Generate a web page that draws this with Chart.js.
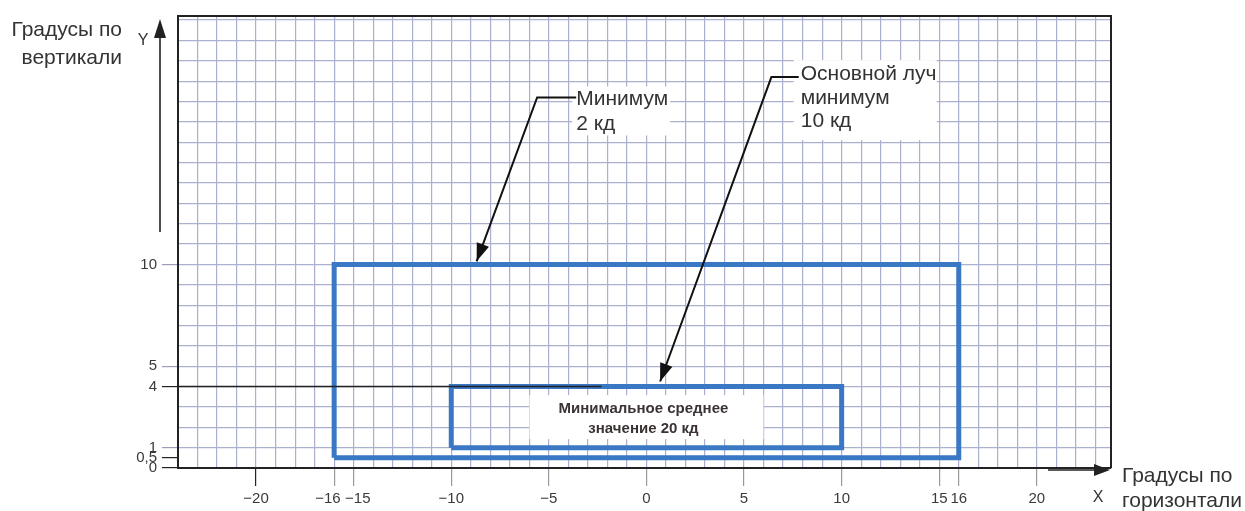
<!DOCTYPE html>
<html><head><meta charset="utf-8">
<script src="https://cdn.jsdelivr.net/npm/chart.js@4/dist/chart.umd.min.js"></script>
<style>html,body{margin:0;padding:0;background:#fff;}#wrap{position:relative;width:1245px;height:511px;}</style>
</head><body><div id="wrap"><canvas id="c" width="1245" height="511"></canvas></div>
<script>
// ---- data ----
const xLabelTicks = [-20, -16, -15, -10, -5, 0, 5, 10, 15, 16, 20];
const yLabelTicks = [0, 0.5, 1, 4, 5, 10];
const xRange = [-24, 23.8];
const yRange = [0, 22.2];
const outerBoxX = [-16, -16, 16, 16, -16];
const outerBoxY = [0.5, 10, 10, 0.5, 0.5];
const innerBoxX = [-10, -10, 10, 10, -10];
const innerBoxY = [1, 4, 4, 1, 1];
const refLineX = [-24, -2.3];
const refLineY = [4, 4];
const callout1X = [-8.7, -5.6, -3.6];
const callout1Y = [10.15, 18.2, 18.2];
const callout2X = [0.7, 6.4, 7.8];
const callout2Y = [4.25, 19.2, 19.2];
const label1 = ['Минимум', '2 кд'];
const label2 = ['Основной луч', 'минимум', '10 кд'];
const label3 = ['Минимальное среднее', 'значение 20 кд'];
const yTitle = ['Градусы по', 'вертикали'];
const xTitle = ['Градусы по', 'горизонтали'];

// ---- helpers ----
const pts = (xs, ys) => xs.map((x, i) => ({x: x, y: ys[i]}));
const fmt = v => (v < 0 ? '\u2212' + Math.abs(v) : String(v)).replace('.', ',');
// crowded neighbours (-16/-15) are nudged apart with padding spaces
const xFmt = v => v === -16 ? fmt(v) + '   ' : (v === -15 ? '  ' + fmt(v) : fmt(v));
const gridX = [];
for (let v = Math.ceil(xRange[0]); v <= Math.floor(xRange[1]); v++) gridX.push(v);
const gridY = [0.5];
for (let v = Math.ceil(yRange[0]); v <= Math.floor(yRange[1]); v++) gridY.push(v);
gridY.sort((a, b) => a - b);

const BLUE = '#3a77c4';
const GRID = '#acb0cf';
const FONT = '"Liberation Sans", Arial, sans-serif';

const deco = {
  id: 'deco',
  beforeDatasetsDraw(chart) {
    const ctx = chart.ctx;
    ctx.save();
    ctx.fillStyle = '#fff';
    const m1 = chart.getDatasetMeta(3).data[2];
    ctx.fillRect(m1.x - 4, m1.y - 11, 98, 49);
    const m2 = chart.getDatasetMeta(4).data[2];
    ctx.fillRect(m2.x - 5, m2.y - 17, 143, 80);
    const xs = chart.scales.x, ys = chart.scales.y;
    const cx = xs.getPixelForValue(0);
    const cy = ys.getPixelForValue(2.5);
    ctx.fillRect(cx - 117, cy - 22, 234, 44);
    ctx.restore();
  },
  afterDatasetsDraw(chart) {
    const ctx = chart.ctx, a = chart.chartArea;
    ctx.save();
    ctx.strokeStyle = '#222'; ctx.lineWidth = 2;
    ctx.beginPath();
    ctx.moveTo(a.left, a.top); ctx.lineTo(a.right, a.top); ctx.lineTo(a.right, a.bottom);
    ctx.stroke();
    ctx.fillStyle = '#111';
    [3, 4].forEach(i => {
      const d = chart.getDatasetMeta(i).data;
      const p0 = d[0], p1 = d[1];
      const ang = Math.atan2(p0.y - p1.y, p0.x - p1.x);
      const L = 18, W = 6.5;
      ctx.beginPath();
      ctx.moveTo(p0.x, p0.y);
      ctx.lineTo(p0.x - L * Math.cos(ang) + W * Math.sin(ang), p0.y - L * Math.sin(ang) - W * Math.cos(ang));
      ctx.lineTo(p0.x - L * Math.cos(ang) - W * Math.sin(ang), p0.y - L * Math.sin(ang) + W * Math.cos(ang));
      ctx.closePath(); ctx.fill();
    });
    ctx.fillStyle = '#333';
    ctx.font = '21px ' + FONT;
    ctx.textAlign = 'left'; ctx.textBaseline = 'alphabetic';
    const m1 = chart.getDatasetMeta(3).data[2];
    label1.forEach((t, k) => ctx.fillText(t, m1.x, m1.y + 8 + k * 25));
    const m2 = chart.getDatasetMeta(4).data[2];
    label2.forEach((t, k) => ctx.fillText(t, m2.x + 2, m2.y + 3 + k * 23.5));
    const xs = chart.scales.x, ys = chart.scales.y;
    const cx = xs.getPixelForValue(0) - 3;
    const cy = ys.getPixelForValue(2.5);
    ctx.fillStyle = '#3b3333';
    ctx.font = 'bold 15px ' + FONT;
    ctx.textAlign = 'center';
    label3.forEach((t, k) => ctx.fillText(t, cx, cy - 4 + k * 20));
    ctx.strokeStyle = '#222'; ctx.fillStyle = '#222'; ctx.lineWidth = 1.6;
    const ax = a.left - 18;
    ctx.beginPath(); ctx.moveTo(ax, a.top + 216); ctx.lineTo(ax, a.top + 14); ctx.stroke();
    ctx.beginPath(); ctx.moveTo(ax, a.top + 3); ctx.lineTo(ax - 6, a.top + 22); ctx.lineTo(ax + 6, a.top + 22); ctx.closePath(); ctx.fill();
    const ay = a.bottom + 2;
    ctx.beginPath(); ctx.moveTo(a.right - 63, ay); ctx.lineTo(a.right - 10, ay); ctx.stroke();
    ctx.beginPath(); ctx.moveTo(a.right - 1, ay); ctx.lineTo(a.right - 17, ay - 6); ctx.lineTo(a.right - 17, ay + 6); ctx.closePath(); ctx.fill();
    ctx.fillStyle = '#333';
    ctx.font = '16px ' + FONT;
    ctx.textAlign = 'center';
    ctx.fillText('Y', a.left - 35, a.top + 29);
    ctx.fillText('X', a.right - 13, a.bottom + 34);
    ctx.font = '21px ' + FONT;
    ctx.textAlign = 'right';
    yTitle.forEach((t, k) => ctx.fillText(t, a.left - 56, a.top + 20 + k * 28));
    ctx.textAlign = 'left';
    xTitle.forEach((t, k) => ctx.fillText(t, a.right + 11, a.bottom + 14 + k * 25));
    ctx.restore();
  }
};

new Chart(document.getElementById('c'), {
  type: 'scatter',
  data: {
    datasets: [
      {data: pts(outerBoxX, outerBoxY), showLine: true, borderColor: BLUE, borderWidth: 5, pointRadius: 0, fill: false, tension: 0, borderJoinStyle: 'miter', order: 2},
      {data: pts(innerBoxX, innerBoxY), showLine: true, borderColor: BLUE, borderWidth: 5, pointRadius: 0, fill: false, tension: 0, borderJoinStyle: 'miter', order: 2},
      {data: pts(refLineX, refLineY), showLine: true, borderColor: '#222', borderWidth: 1.5, pointRadius: 0, fill: false, order: 0},
      {data: pts(callout1X, callout1Y), showLine: true, borderColor: '#111', borderWidth: 2, pointRadius: 0, fill: false, clip: false, order: 0},
      {data: pts(callout2X, callout2Y), showLine: true, borderColor: '#111', borderWidth: 2, pointRadius: 0, fill: false, clip: false, order: 0}
    ]
  },
  options: {
    responsive: false, animation: false, devicePixelRatio: 1,
    layout: {padding: {left: 118, right: 134, top: 16, bottom: 0}},
    plugins: {legend: {display: false}, tooltip: {enabled: false}, title: {display: false}},
    scales: {
      x: {
        type: 'linear', min: xRange[0], max: xRange[1],
        afterBuildTicks: s => { s.ticks = gridX.map(v => ({value: v})); },
        afterFit: s => { s.height = 43; },
        grid: {
          color: c => (c.tick && c.tick.value === xRange[0]) ? 'rgba(0,0,0,0)' : GRID,
          lineWidth: 1.2, tickLength: 18,
          tickColor: c => !c.tick ? 'rgba(0,0,0,0)' : (c.tick.value === -20 ? '#222' : (xLabelTicks.includes(c.tick.value) ? '#999' : 'rgba(0,0,0,0)'))
        },
        border: {display: true, color: '#222', width: 2},
        ticks: {autoSkip: false, maxRotation: 0, padding: 4, color: '#3a3a3a', font: {family: FONT, size: 15},
          callback: v => xLabelTicks.includes(v) ? xFmt(v) : ''}
      },
      y: {
        type: 'linear', min: yRange[0], max: yRange[1],
        afterBuildTicks: s => { s.ticks = gridY.map(v => ({value: v})); },
        afterFit: s => { s.width = 60; },
        grid: {
          color: c => (c.tick && c.tick.value === 0.5) ? 'rgba(0,0,0,0)' : GRID,
          lineWidth: 1.2, tickLength: 16,
          tickColor: c => { if (!c.tick) return 'rgba(0,0,0,0)'; const v = c.tick.value;
            if (v === 0 || v === 0.5 || v === 4) return '#222';
            return yLabelTicks.includes(v) ? '#9a9cb8' : 'rgba(0,0,0,0)'; }
        },
        border: {display: true, color: '#222', width: 2},
        ticks: {autoSkip: false, padding: 5, color: '#3a3a3a', font: {family: FONT, size: 15},
          callback: v => yLabelTicks.includes(v) ? fmt(v) : ''}
      }
    }
  },
  plugins: [deco]
});
</script></body></html>
